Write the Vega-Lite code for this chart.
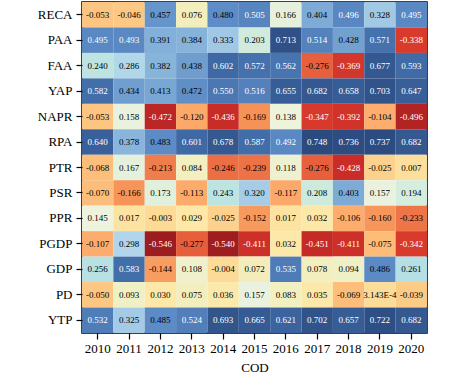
{
  "$schema": "https://vega.github.io/schema/vega-lite/v6.json",
  "width": 345,
  "height": 331,
  "autosize": "none",
  "padding": {"left": 82, "top": 2, "right": 38, "bottom": 42},
  "background": "white",
  "config": {
    "view": {"stroke": "black", "strokeWidth": 1.5},
    "font": "Liberation Serif",
    "axis": {"labelFont": "Liberation Serif", "titleFont": "Liberation Serif", "labelColor": "black", "titleColor": "black", "tickColor": "black", "domain": false, "grid": false, "tickSize": 6, "tickWidth": 1.2}
  },
  "data": {"values": [
    {"row":"RECA","year":"2010","v":-0.053,"label":"-0.053"},{"row":"RECA","year":"2011","v":-0.046,"label":"-0.046"},{"row":"RECA","year":"2012","v":0.457,"label":"0.457"},{"row":"RECA","year":"2013","v":0.076,"label":"0.076"},{"row":"RECA","year":"2014","v":0.480,"label":"0.480"},{"row":"RECA","year":"2015","v":0.505,"label":"0.505"},{"row":"RECA","year":"2016","v":0.166,"label":"0.166"},{"row":"RECA","year":"2017","v":0.404,"label":"0.404"},{"row":"RECA","year":"2018","v":0.496,"label":"0.496"},{"row":"RECA","year":"2019","v":0.328,"label":"0.328"},{"row":"RECA","year":"2020","v":0.495,"label":"0.495"},
    {"row":"PAA","year":"2010","v":0.495,"label":"0.495"},{"row":"PAA","year":"2011","v":0.493,"label":"0.493"},{"row":"PAA","year":"2012","v":0.391,"label":"0.391"},{"row":"PAA","year":"2013","v":0.384,"label":"0.384"},{"row":"PAA","year":"2014","v":0.333,"label":"0.333"},{"row":"PAA","year":"2015","v":0.203,"label":"0.203"},{"row":"PAA","year":"2016","v":0.713,"label":"0.713"},{"row":"PAA","year":"2017","v":0.514,"label":"0.514"},{"row":"PAA","year":"2018","v":0.428,"label":"0.428"},{"row":"PAA","year":"2019","v":0.571,"label":"0.571"},{"row":"PAA","year":"2020","v":-0.338,"label":"-0.338"},
    {"row":"FAA","year":"2010","v":0.240,"label":"0.240"},{"row":"FAA","year":"2011","v":0.286,"label":"0.286"},{"row":"FAA","year":"2012","v":0.382,"label":"0.382"},{"row":"FAA","year":"2013","v":0.438,"label":"0.438"},{"row":"FAA","year":"2014","v":0.602,"label":"0.602"},{"row":"FAA","year":"2015","v":0.572,"label":"0.572"},{"row":"FAA","year":"2016","v":0.562,"label":"0.562"},{"row":"FAA","year":"2017","v":-0.276,"label":"-0.276"},{"row":"FAA","year":"2018","v":-0.369,"label":"-0.369"},{"row":"FAA","year":"2019","v":0.677,"label":"0.677"},{"row":"FAA","year":"2020","v":0.593,"label":"0.593"},
    {"row":"YAP","year":"2010","v":0.582,"label":"0.582"},{"row":"YAP","year":"2011","v":0.434,"label":"0.434"},{"row":"YAP","year":"2012","v":0.413,"label":"0.413"},{"row":"YAP","year":"2013","v":0.472,"label":"0.472"},{"row":"YAP","year":"2014","v":0.550,"label":"0.550"},{"row":"YAP","year":"2015","v":0.516,"label":"0.516"},{"row":"YAP","year":"2016","v":0.655,"label":"0.655"},{"row":"YAP","year":"2017","v":0.682,"label":"0.682"},{"row":"YAP","year":"2018","v":0.658,"label":"0.658"},{"row":"YAP","year":"2019","v":0.703,"label":"0.703"},{"row":"YAP","year":"2020","v":0.647,"label":"0.647"},
    {"row":"NAPR","year":"2010","v":-0.053,"label":"-0.053"},{"row":"NAPR","year":"2011","v":0.158,"label":"0.158"},{"row":"NAPR","year":"2012","v":-0.472,"label":"-0.472"},{"row":"NAPR","year":"2013","v":-0.120,"label":"-0.120"},{"row":"NAPR","year":"2014","v":-0.436,"label":"-0.436"},{"row":"NAPR","year":"2015","v":-0.169,"label":"-0.169"},{"row":"NAPR","year":"2016","v":0.138,"label":"0.138"},{"row":"NAPR","year":"2017","v":-0.347,"label":"-0.347"},{"row":"NAPR","year":"2018","v":-0.392,"label":"-0.392"},{"row":"NAPR","year":"2019","v":-0.104,"label":"-0.104"},{"row":"NAPR","year":"2020","v":-0.496,"label":"-0.496"},
    {"row":"RPA","year":"2010","v":0.640,"label":"0.640"},{"row":"RPA","year":"2011","v":0.378,"label":"0.378"},{"row":"RPA","year":"2012","v":0.483,"label":"0.483"},{"row":"RPA","year":"2013","v":0.601,"label":"0.601"},{"row":"RPA","year":"2014","v":0.678,"label":"0.678"},{"row":"RPA","year":"2015","v":0.587,"label":"0.587"},{"row":"RPA","year":"2016","v":0.492,"label":"0.492"},{"row":"RPA","year":"2017","v":0.748,"label":"0.748"},{"row":"RPA","year":"2018","v":0.736,"label":"0.736"},{"row":"RPA","year":"2019","v":0.737,"label":"0.737"},{"row":"RPA","year":"2020","v":0.682,"label":"0.682"},
    {"row":"PTR","year":"2010","v":-0.068,"label":"-0.068"},{"row":"PTR","year":"2011","v":0.167,"label":"0.167"},{"row":"PTR","year":"2012","v":-0.213,"label":"-0.213"},{"row":"PTR","year":"2013","v":0.084,"label":"0.084"},{"row":"PTR","year":"2014","v":-0.246,"label":"-0.246"},{"row":"PTR","year":"2015","v":-0.239,"label":"-0.239"},{"row":"PTR","year":"2016","v":0.118,"label":"0.118"},{"row":"PTR","year":"2017","v":-0.276,"label":"-0.276"},{"row":"PTR","year":"2018","v":-0.428,"label":"-0.428"},{"row":"PTR","year":"2019","v":-0.025,"label":"-0.025"},{"row":"PTR","year":"2020","v":0.007,"label":"0.007"},
    {"row":"PSR","year":"2010","v":-0.070,"label":"-0.070"},{"row":"PSR","year":"2011","v":-0.166,"label":"-0.166"},{"row":"PSR","year":"2012","v":0.173,"label":"0.173"},{"row":"PSR","year":"2013","v":-0.113,"label":"-0.113"},{"row":"PSR","year":"2014","v":0.243,"label":"0.243"},{"row":"PSR","year":"2015","v":0.320,"label":"0.320"},{"row":"PSR","year":"2016","v":-0.117,"label":"-0.117"},{"row":"PSR","year":"2017","v":0.208,"label":"0.208"},{"row":"PSR","year":"2018","v":0.403,"label":"0.403"},{"row":"PSR","year":"2019","v":0.157,"label":"0.157"},{"row":"PSR","year":"2020","v":0.194,"label":"0.194"},
    {"row":"PPR","year":"2010","v":0.145,"label":"0.145"},{"row":"PPR","year":"2011","v":0.017,"label":"0.017"},{"row":"PPR","year":"2012","v":-0.003,"label":"-0.003"},{"row":"PPR","year":"2013","v":0.029,"label":"0.029"},{"row":"PPR","year":"2014","v":-0.025,"label":"-0.025"},{"row":"PPR","year":"2015","v":-0.152,"label":"-0.152"},{"row":"PPR","year":"2016","v":0.017,"label":"0.017"},{"row":"PPR","year":"2017","v":0.032,"label":"0.032"},{"row":"PPR","year":"2018","v":-0.106,"label":"-0.106"},{"row":"PPR","year":"2019","v":-0.160,"label":"-0.160"},{"row":"PPR","year":"2020","v":-0.233,"label":"-0.233"},
    {"row":"PGDP","year":"2010","v":-0.107,"label":"-0.107"},{"row":"PGDP","year":"2011","v":0.298,"label":"0.298"},{"row":"PGDP","year":"2012","v":-0.546,"label":"-0.546"},{"row":"PGDP","year":"2013","v":-0.277,"label":"-0.277"},{"row":"PGDP","year":"2014","v":-0.540,"label":"-0.540"},{"row":"PGDP","year":"2015","v":-0.411,"label":"-0.411"},{"row":"PGDP","year":"2016","v":0.032,"label":"0.032"},{"row":"PGDP","year":"2017","v":-0.451,"label":"-0.451"},{"row":"PGDP","year":"2018","v":-0.411,"label":"-0.411"},{"row":"PGDP","year":"2019","v":-0.075,"label":"-0.075"},{"row":"PGDP","year":"2020","v":-0.342,"label":"-0.342"},
    {"row":"GDP","year":"2010","v":0.256,"label":"0.256"},{"row":"GDP","year":"2011","v":0.583,"label":"0.583"},{"row":"GDP","year":"2012","v":-0.144,"label":"-0.144"},{"row":"GDP","year":"2013","v":0.108,"label":"0.108"},{"row":"GDP","year":"2014","v":-0.004,"label":"-0.004"},{"row":"GDP","year":"2015","v":0.072,"label":"0.072"},{"row":"GDP","year":"2016","v":0.535,"label":"0.535"},{"row":"GDP","year":"2017","v":0.078,"label":"0.078"},{"row":"GDP","year":"2018","v":0.094,"label":"0.094"},{"row":"GDP","year":"2019","v":0.486,"label":"0.486"},{"row":"GDP","year":"2020","v":0.261,"label":"0.261"},
    {"row":"PD","year":"2010","v":-0.050,"label":"-0.050"},{"row":"PD","year":"2011","v":0.093,"label":"0.093"},{"row":"PD","year":"2012","v":0.030,"label":"0.030"},{"row":"PD","year":"2013","v":0.075,"label":"0.075"},{"row":"PD","year":"2014","v":0.036,"label":"0.036"},{"row":"PD","year":"2015","v":0.157,"label":"0.157"},{"row":"PD","year":"2016","v":0.083,"label":"0.083"},{"row":"PD","year":"2017","v":0.035,"label":"0.035"},{"row":"PD","year":"2018","v":-0.069,"label":"-0.069"},{"row":"PD","year":"2019","v":0.0003143,"label":"3.143E-4"},{"row":"PD","year":"2020","v":-0.039,"label":"-0.039"},
    {"row":"YTP","year":"2010","v":0.532,"label":"0.532"},{"row":"YTP","year":"2011","v":0.325,"label":"0.325"},{"row":"YTP","year":"2012","v":0.485,"label":"0.485"},{"row":"YTP","year":"2013","v":0.524,"label":"0.524"},{"row":"YTP","year":"2014","v":0.693,"label":"0.693"},{"row":"YTP","year":"2015","v":0.665,"label":"0.665"},{"row":"YTP","year":"2016","v":0.621,"label":"0.621"},{"row":"YTP","year":"2017","v":0.702,"label":"0.702"},{"row":"YTP","year":"2018","v":0.657,"label":"0.657"},{"row":"YTP","year":"2019","v":0.722,"label":"0.722"},{"row":"YTP","year":"2020","v":0.682,"label":"0.682"}
  ]},
  "encoding": {
    "x": {"field": "year", "type": "ordinal", "title": "COD", "axis": {"labelAngle": 0, "labelFontSize": 13, "titleFontSize": 13, "titleFontWeight": "normal", "labelPadding": 3, "titlePadding": 6}},
    "y": {"field": "row", "type": "ordinal", "title": null, "sort": ["RECA","PAA","FAA","YAP","NAPR","RPA","PTR","PSR","PPR","PGDP","GDP","PD","YTP"], "axis": {"labelFontSize": 13, "labelPadding": 4}}
  },
  "layer": [
    {"mark": {"type": "rect"}, "encoding": {"color": {"field": "v", "type": "quantitative", "legend": null, "scale": {"type": "linear", "domain": [-0.546, -0.45, -0.34, -0.27, -0.1, 0.03, 0.15, 0.3, 0.48, 0.6, 0.748], "range": ["#9c1c1f", "#c62a26", "#d83a2c", "#e9623f", "#fdb070", "#fde8a8", "#eef3e0", "#b1d4ea", "#5d8cc6", "#3e69a5", "#2b4a7e"]}}}},
    {"mark": {"type": "text", "fontSize": 9, "font": "Liberation Serif"}, "encoding": {"text": {"field": "label"}, "color": {"condition": {"test": "datum.v > 0.49 || datum.v < -0.3", "value": "white"}, "value": "black"}}}
  ]
}
